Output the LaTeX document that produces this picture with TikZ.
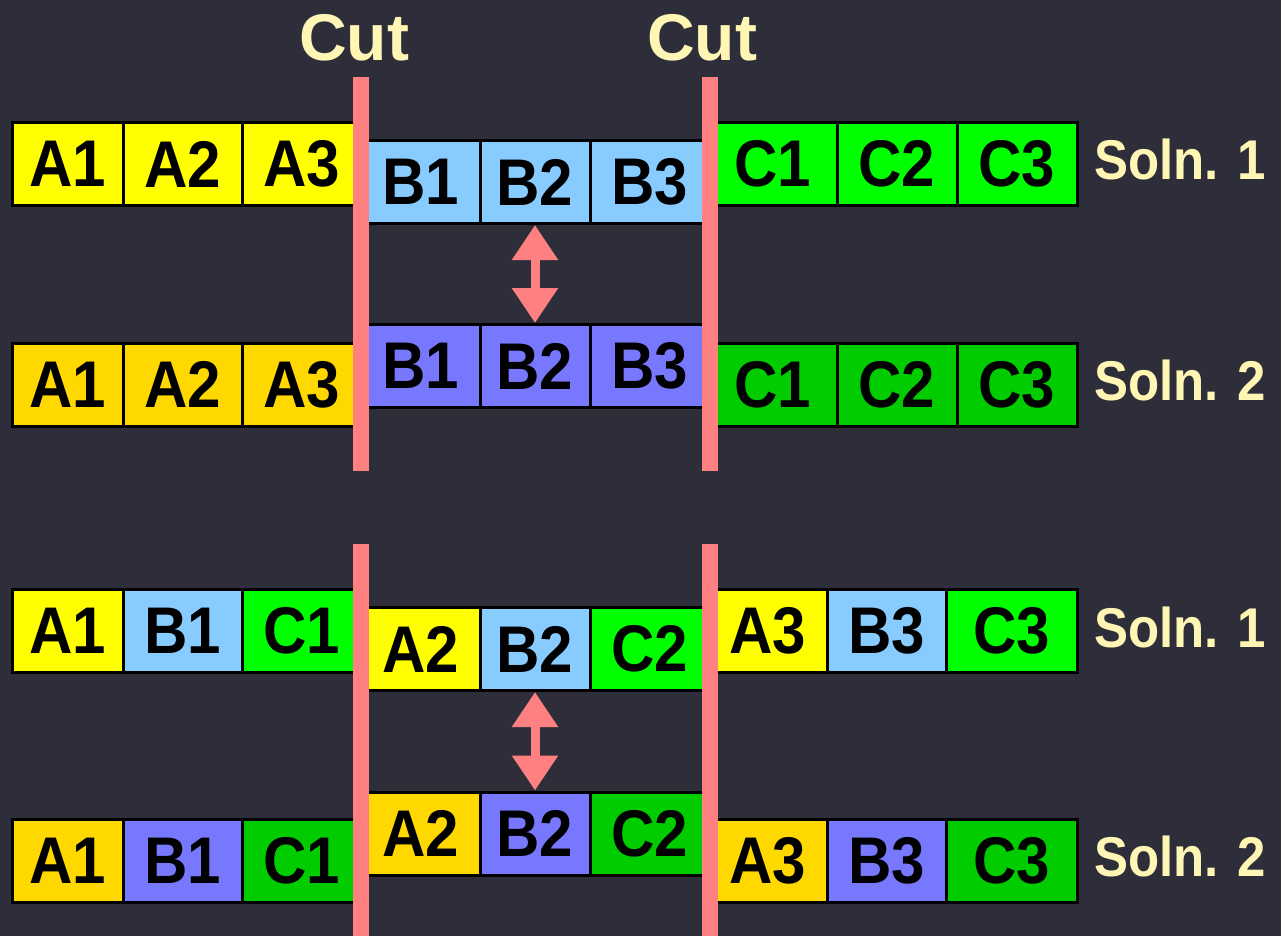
\documentclass[tikz,border=0pt]{standalone}
\usepackage{fontspec}
\setmainfont{Liberation Sans}
\newfontfamily\narrowfont{Liberation Sans}[FakeStretch=0.91]
\usetikzlibrary{arrows.meta}
\definecolor{bgDark}{RGB}{ 46, 46, 58}
\definecolor{cutRed}{RGB}{255,128,128}
\definecolor{labelCream}{RGB}{255,245,180}
\definecolor{aOne}{RGB}{255,255,  0}
\definecolor{aTwo}{RGB}{255,216,  0}
\definecolor{bOne}{RGB}{136,204,255}
\definecolor{bTwo}{RGB}{120,120,255}
\definecolor{cOne}{RGB}{  0,255,  0}
\definecolor{cTwo}{RGB}{  0,204,  0}
\tikzset{
    cell/.style={
        draw=black, line width=3pt, inner sep=0pt,
        minimum width=#1, minimum height=83pt,
        font=\narrowfont\fontsize{66}{70}\selectfont\bfseries, text=black,
    },
    % Cut lines and the swap arrows share the same pink
    cutline/.style={
        draw=cutRed, line width=16pt,
    },
    swaparrow/.style={
        {Triangle[length=35pt,width=44pt]}-{Triangle[length=35pt,width=44pt]},
        draw=cutRed, line width=9pt,
    },
    cutlabel/.style={
        font=\fontsize{66}{70}\selectfont\bfseries, text=labelCream,
        anchor=base, inner sep=0pt,
    },
    solnlabel/.style={
        font=\narrowfont\fontsize{56}{60}\selectfont\bfseries, text=labelCream,
        anchor=base west, inner sep=0pt,
    },
}
\begin{document}
\begin{tikzpicture}[x=1pt, y=-1pt]

% ============================================================
%   Canvas
% ============================================================
\useasboundingbox (0,0) rectangle (1281,936);
\fill[bgDark] (0,0) rectangle (1281,936);

% ============================================================
%   Upper part: cut by blocks A | B | C
% ============================================================
% --- Soln. 1 ------------------------------------------------
\node[cell=111, fill=aOne] (r1A1) at (  67.5,164) {A1};
\node[cell=119, fill=aOne] (r1A2) at ( 182.5,164) {A2};
\node[cell=119, fill=aOne] (r1A3) at ( 301.5,164) {A3};
\node[cell=119, fill=bOne] (r1B1) at ( 420.5,182) {B1};
\node[cell=110, fill=bOne] (r1B2) at ( 535  ,182) {B2};
\node[cell=119, fill=bOne] (r1B3) at ( 649.5,182) {B3};
\node[cell=128, fill=cOne] (r1C1) at ( 773  ,164) {C1};
\node[cell=120, fill=cOne] (r1C2) at ( 897  ,164) {C2};
\node[cell=120, fill=cOne] (r1C3) at (1017  ,164) {C3};

% --- Soln. 2 ------------------------------------------------
\node[cell=111, fill=aTwo] (r2A1) at (  67.5,384.5) {A1};
\node[cell=119, fill=aTwo] (r2A2) at ( 182.5,384.5) {A2};
\node[cell=119, fill=aTwo] (r2A3) at ( 301.5,384.5) {A3};
\node[cell=119, fill=bTwo] (r2B1) at ( 420.5,366) {B1};
\node[cell=110, fill=bTwo] (r2B2) at ( 535  ,366) {B2};
\node[cell=119, fill=bTwo] (r2B3) at ( 649.5,366) {B3};
\node[cell=128, fill=cTwo] (r2C1) at ( 773  ,384.5) {C1};
\node[cell=120, fill=cTwo] (r2C2) at ( 897  ,384.5) {C2};
\node[cell=120, fill=cTwo] (r2C3) at (1017  ,384.5) {C3};

% ============================================================
%   Lower part: cut by positions 1 | 2 | 3
% ============================================================
% --- Soln. 1 ------------------------------------------------
\node[cell=111, fill=aOne] (r3A1) at (  67.5,631) {A1};
\node[cell=119, fill=bOne] (r3B1) at ( 182.5,631) {B1};
\node[cell=119, fill=cOne] (r3C1) at ( 301.5,631) {C1};
\node[cell=119, fill=aOne] (r3A2) at ( 420.5,649) {A2};
\node[cell=110, fill=bOne] (r3B2) at ( 535  ,649) {B2};
\node[cell=119, fill=cOne] (r3C2) at ( 649.5,649) {C2};
\node[cell=118, fill=aOne] (r3A3) at ( 768  ,631) {A3};
\node[cell=119, fill=bOne] (r3B3) at ( 886.5,631) {B3};
\node[cell=131, fill=cOne] (r3C3) at (1011.5,631) {C3};

% --- Soln. 2 ------------------------------------------------
\node[cell=111, fill=aTwo] (r4A1) at (  67.5,861) {A1};
\node[cell=119, fill=bTwo] (r4B1) at ( 182.5,861) {B1};
\node[cell=119, fill=cTwo] (r4C1) at ( 301.5,861) {C1};
\node[cell=119, fill=aTwo] (r4A2) at ( 420.5,833.5) {A2};
\node[cell=110, fill=bTwo] (r4B2) at ( 535  ,833.5) {B2};
\node[cell=119, fill=cTwo] (r4C2) at ( 649.5,833.5) {C2};
\node[cell=118, fill=aTwo] (r4A3) at ( 768  ,861) {A3};
\node[cell=119, fill=bTwo] (r4B3) at ( 886.5,861) {B3};
\node[cell=131, fill=cTwo] (r4C3) at (1011.5,861) {C3};

% ============================================================
%   Cut lines (drawn over the cells) and their labels
% ============================================================
\coordinate (cutLtop) at (361, 77);
\coordinate (cutLmid) at (361,471);
\coordinate (cutLlow) at (361,544);
\coordinate (cutLend) at (361,936);
\coordinate (cutRtop) at (709.5, 77);
\coordinate (cutRmid) at (709.5,471);
\coordinate (cutRlow) at (709.5,544);
\coordinate (cutRend) at (709.5,936);

\draw[cutline] (cutLtop) -- (cutLmid);
\draw[cutline] (cutRtop) -- (cutRmid);
\draw[cutline] (cutLlow) -- (cutLend);
\draw[cutline] (cutRlow) -- (cutRend);

\node[cutlabel] (cutL) at (354,61) {Cut};
\node[cutlabel] (cutR) at (702,61) {Cut};

% ============================================================
%   Swap arrows between the middle blocks
% ============================================================
\draw[swaparrow] (r1B2.south) -- (r2B2.north);
\draw[swaparrow] (r3B2.south) -- (r4B2.north);

% ============================================================
%   Solution labels
% ============================================================
\node[solnlabel] (s1) at (1094,179) {Soln. 1};
\node[solnlabel] (s2) at (1094,400) {Soln. 2};
\node[solnlabel] (s3) at (1094,647) {Soln. 1};
\node[solnlabel] (s4) at (1094,876) {Soln. 2};

\end{tikzpicture}
\end{document}
